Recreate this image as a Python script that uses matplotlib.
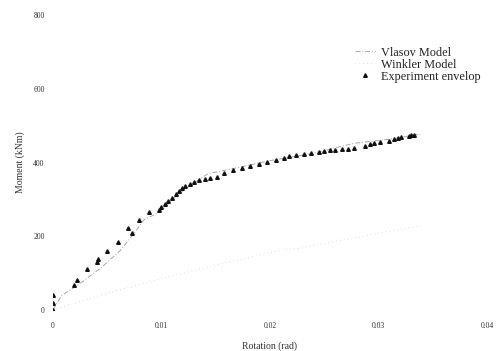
"""
Moment-rotation curve: Vlasov / Winkler models vs experiment envelope.
"""

import matplotlib
matplotlib.use("Agg")
import matplotlib.pyplot as plt

# experiment envelope (rad, kNm)
exp_rot = [0.0, 0.0, 0.0, 0.0019, 0.0022, 0.0031, 0.0041, 0.0042, 0.0050,
           0.0060, 0.0069, 0.0073, 0.0079, 0.0089, 0.0098, 0.0100, 0.0103,
           0.0106, 0.0110, 0.0113, 0.0116, 0.0119, 0.0122, 0.0126, 0.0130,
           0.0135, 0.0140, 0.0145, 0.0151, 0.0158, 0.0166, 0.0174, 0.0182,
           0.0190, 0.0197, 0.0206, 0.0213, 0.0218, 0.0224, 0.0231, 0.0238,
           0.0245, 0.0250, 0.0255, 0.0260, 0.0266, 0.0272, 0.0277, 0.0288,
           0.0292, 0.0296, 0.0301, 0.0310, 0.0314, 0.0318, 0.0321, 0.0328,
           0.0330, 0.0333]
exp_mom = [0, 19, 41, 68, 82, 112, 129, 139, 161,
           184, 222, 210, 245, 266, 270, 280, 288,
           296, 305, 314, 322, 330, 336, 343, 348,
           352, 356, 358, 361, 372, 379, 385, 391,
           396, 402, 408, 413, 418, 420, 424, 427,
           429, 431, 433, 434, 436, 438, 440, 444,
           450, 452, 456, 459, 463, 466, 468, 472,
           474, 476]

# Vlasov model
vlasov_rot = [0.0, 0.0008, 0.0027, 0.0045, 0.0062, 0.0077, 0.0084, 0.0099,
              0.0110, 0.0125, 0.0143, 0.0170, 0.0200, 0.0240, 0.0277, 0.0310,
              0.0340]
vlasov_mom = [0, 39, 76, 116, 161, 216, 245, 266,
              300, 335, 370, 386, 405, 425, 452, 463,
              478]

# Winkler model
winkler_rot = [0.0, 0.0050, 0.0100, 0.0150, 0.0212, 0.0225, 0.0260, 0.0306,
               0.0339]
winkler_mom = [0, 45, 85, 122, 163, 166, 186, 211,
               228]

x_ticks = [0, 0.01, 0.02, 0.03, 0.04]
x_labels = ["0", "0.01", "0.02", "0.03", "0.04"]
y_ticks = [0, 200, 400, 600, 800]

plt.rcParams["font.family"] = ["Liberation Serif", "DejaVu Serif"]

fig = plt.figure(figsize=(4.99, 3.51), dpi=100)
ax = fig.add_axes([0.106, 0.117, 0.87, 0.84])

ax.plot(vlasov_rot, vlasov_mom, color="#a8a8a8", lw=0.7,
        linestyle=(0, (5, 2, 1, 2)), label="Vlasov Model")
ax.plot(winkler_rot, winkler_mom, color="#dddddd", lw=0.7,
        linestyle=(0, (1, 3)), label="Winkler Model")
ax.plot(exp_rot, exp_mom, linestyle="none", marker="^", markersize=2.6,
        color="#111111", label="Experiment envelop")

ax.set_xlim(0, 0.04)
ax.set_ylim(0, 800)
ax.set_xticks(x_ticks)
ax.set_xticklabels(x_labels)
ax.set_yticks(y_ticks)
ax.tick_params(length=0, labelsize=5.5, colors="#333333")
ax.tick_params(axis="x", pad=9)
ax.tick_params(axis="y", pad=6)
for s in ax.spines.values():
    s.set_visible(False)

ax.set_xlabel("Rotation (rad)", fontsize=7, color="#333333", labelpad=8)
ax.set_ylabel("Moment (kNm)", fontsize=7, color="#333333", labelpad=6)

ax.legend(loc="upper right", bbox_to_anchor=(1.01, 0.93), frameon=False,
          fontsize=8.8, handlelength=1.6, handletextpad=0.5,
          labelspacing=0.0, labelcolor="#222222")

fig.savefig("out.png", dpi=100)
